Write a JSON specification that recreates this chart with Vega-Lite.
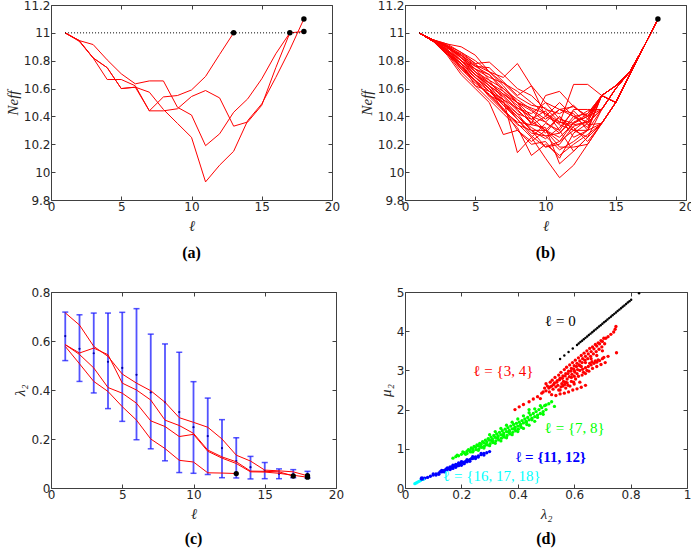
{
"$schema": "https://vega.github.io/schema/vega-lite/v6.json",
"background": "white",
"padding": {"left": 4, "top": -2, "right": 0, "bottom": 0},
"columns": 2,
"spacing": {"row": 92, "column": 69},
"bounds": "flush",
"datasets": {
"a_lines": [
{"r":"A","x":1,"y":11},{"r":"A","x":2,"y":10.945},{"r":"A","x":3,"y":10.82},{"r":"A","x":4,"y":10.665},{"r":"A","x":5,"y":10.665},{"r":"A","x":6,"y":10.62},{"r":"A","x":7,"y":10.44},{"r":"A","x":8,"y":10.54},{"r":"A","x":9,"y":10.55},{"r":"A","x":10,"y":10.59},{"r":"A","x":11,"y":10.687},{"r":"A","x":12,"y":10.845},{"r":"A","x":13,"y":11.0},
{"r":"B","x":1,"y":11},{"r":"B","x":2,"y":10.945},{"r":"B","x":3,"y":10.916},{"r":"B","x":4,"y":10.806},{"r":"B","x":5,"y":10.706},{"r":"B","x":6,"y":10.634},{"r":"B","x":7,"y":10.655},{"r":"B","x":8,"y":10.655},{"r":"B","x":9,"y":10.466},{"r":"B","x":10,"y":10.41},{"r":"B","x":11,"y":10.19},{"r":"B","x":12,"y":10.275},{"r":"B","x":13,"y":10.43},{"r":"B","x":14,"y":10.526},{"r":"B","x":15,"y":10.67},{"r":"B","x":16,"y":10.85},{"r":"B","x":17,"y":11.0},
{"r":"C","x":1,"y":11},{"r":"C","x":2,"y":10.94},{"r":"C","x":3,"y":10.82},{"r":"C","x":4,"y":10.75},{"r":"C","x":5,"y":10.6},{"r":"C","x":6,"y":10.61},{"r":"C","x":7,"y":10.44},{"r":"C","x":8,"y":10.44},{"r":"C","x":9,"y":10.455},{"r":"C","x":10,"y":10.543},{"r":"C","x":11,"y":10.586},{"r":"C","x":12,"y":10.533},{"r":"C","x":13,"y":10.33},{"r":"C","x":14,"y":10.36},{"r":"C","x":15,"y":10.48},{"r":"C","x":16,"y":10.75},{"r":"C","x":17,"y":11.0},{"r":"C","x":18,"y":11.01},
{"r":"D","x":1,"y":11},{"r":"D","x":2,"y":10.945},{"r":"D","x":3,"y":10.82},{"r":"D","x":4,"y":10.75},{"r":"D","x":5,"y":10.6},{"r":"D","x":6,"y":10.61},{"r":"D","x":7,"y":10.574},{"r":"D","x":8,"y":10.45},{"r":"D","x":9,"y":10.35},{"r":"D","x":10,"y":10.25},{"r":"D","x":11,"y":9.93},{"r":"D","x":12,"y":10.05},{"r":"D","x":13,"y":10.15},{"r":"D","x":14,"y":10.37},{"r":"D","x":15,"y":10.49},{"r":"D","x":16,"y":10.68},{"r":"D","x":17,"y":10.88},{"r":"D","x":18,"y":11.1}
],
"a_ref": [{"x":1,"x2":18,"y":11}],
"a_dots": [{"x":13,"y":11.0},{"x":17,"y":11.0},{"x":18,"y":11.01},{"x":18,"y":11.1}],
"b_dots": [{"x":18,"y":11.1}],
"b_lines": [
{"r":1,"x":1,"y":11},{"r":1,"x":2,"y":10.95},{"r":1,"x":3,"y":10.92},{"r":1,"x":4,"y":10.9},{"r":1,"x":5,"y":10.84},{"r":1,"x":6,"y":10.72},{"r":1,"x":7,"y":10.68},{"r":1,"x":8,"y":10.78},{"r":1,"x":9,"y":10.62},{"r":1,"x":10,"y":10.5},{"r":1,"x":11,"y":10.45},{"r":1,"x":12,"y":10.47},{"r":1,"x":13,"y":10.4},{"r":1,"x":14,"y":10.55},{"r":1,"x":15,"y":10.62},{"r":1,"x":16,"y":10.72},{"r":1,"x":17,"y":10.9},{"r":1,"x":18,"y":11.1},
{"r":2,"x":1,"y":11},{"r":2,"x":2,"y":10.95},{"r":2,"x":3,"y":10.9},{"r":2,"x":4,"y":10.85},{"r":2,"x":5,"y":10.78},{"r":2,"x":6,"y":10.79},{"r":2,"x":7,"y":10.7},{"r":2,"x":8,"y":10.6},{"r":2,"x":9,"y":10.55},{"r":2,"x":10,"y":10.45},{"r":2,"x":11,"y":10.42},{"r":2,"x":12,"y":10.48},{"r":2,"x":13,"y":10.38},{"r":2,"x":14,"y":10.55},{"r":2,"x":15,"y":10.5},{"r":2,"x":16,"y":10.7},{"r":2,"x":17,"y":10.9},{"r":2,"x":18,"y":11.1},
{"r":3,"x":1,"y":11},{"r":3,"x":2,"y":10.94},{"r":3,"x":3,"y":10.88},{"r":3,"x":4,"y":10.8},{"r":3,"x":5,"y":10.74},{"r":3,"x":6,"y":10.7},{"r":3,"x":7,"y":10.6},{"r":3,"x":8,"y":10.5},{"r":3,"x":9,"y":10.4},{"r":3,"x":10,"y":10.3},{"r":3,"x":11,"y":10.18},{"r":3,"x":12,"y":10.18},{"r":3,"x":13,"y":10.2},{"r":3,"x":14,"y":10.35},{"r":3,"x":15,"y":10.5},{"r":3,"x":16,"y":10.7},{"r":3,"x":17,"y":10.9},{"r":3,"x":18,"y":11.1},
{"r":4,"x":1,"y":11},{"r":4,"x":2,"y":10.94},{"r":4,"x":3,"y":10.85},{"r":4,"x":4,"y":10.74},{"r":4,"x":5,"y":10.66},{"r":4,"x":6,"y":10.55},{"r":4,"x":7,"y":10.45},{"r":4,"x":8,"y":10.35},{"r":4,"x":9,"y":10.25},{"r":4,"x":10,"y":10.1},{"r":4,"x":11,"y":9.96},{"r":4,"x":12,"y":10.05},{"r":4,"x":13,"y":10.2},{"r":4,"x":14,"y":10.35},{"r":4,"x":15,"y":10.5},{"r":4,"x":16,"y":10.7},{"r":4,"x":17,"y":10.9},{"r":4,"x":18,"y":11.1},
{"r":5,"x":1,"y":11},{"r":5,"x":2,"y":10.95},{"r":5,"x":3,"y":10.9},{"r":5,"x":4,"y":10.82},{"r":5,"x":5,"y":10.72},{"r":5,"x":6,"y":10.62},{"r":5,"x":7,"y":10.55},{"r":5,"x":8,"y":10.45},{"r":5,"x":9,"y":10.35},{"r":5,"x":10,"y":10.55},{"r":5,"x":11,"y":10.58},{"r":5,"x":12,"y":10.47},{"r":5,"x":13,"y":10.4},{"r":5,"x":14,"y":10.55},{"r":5,"x":15,"y":10.62},{"r":5,"x":16,"y":10.72},{"r":5,"x":17,"y":10.9},{"r":5,"x":18,"y":11.1},
{"r":6,"x":1,"y":11},{"r":6,"x":2,"y":10.94},{"r":6,"x":3,"y":10.86},{"r":6,"x":4,"y":10.78},{"r":6,"x":5,"y":10.7},{"r":6,"x":6,"y":10.6},{"r":6,"x":7,"y":10.52},{"r":6,"x":8,"y":10.14},{"r":6,"x":9,"y":10.25},{"r":6,"x":10,"y":10.35},{"r":6,"x":11,"y":10.3},{"r":6,"x":12,"y":10.15},{"r":6,"x":13,"y":10.25},{"r":6,"x":14,"y":10.35},{"r":6,"x":15,"y":10.5},{"r":6,"x":16,"y":10.7},{"r":6,"x":17,"y":10.9},{"r":6,"x":18,"y":11.1},
{"r":7,"x":1,"y":11},{"r":7,"x":2,"y":10.95},{"r":7,"x":3,"y":10.91},{"r":7,"x":4,"y":10.84},{"r":7,"x":5,"y":10.76},{"r":7,"x":6,"y":10.75},{"r":7,"x":7,"y":10.65},{"r":7,"x":8,"y":10.55},{"r":7,"x":9,"y":10.62},{"r":7,"x":10,"y":10.4},{"r":7,"x":11,"y":10.35},{"r":7,"x":12,"y":10.63},{"r":7,"x":13,"y":10.63},{"r":7,"x":14,"y":10.55},{"r":7,"x":15,"y":10.5},{"r":7,"x":16,"y":10.7},{"r":7,"x":17,"y":10.9},{"r":7,"x":18,"y":11.1},
{"r":8,"x":1,"y":11},{"r":8,"x":2,"y":10.94},{"r":8,"x":3,"y":10.84},{"r":8,"x":4,"y":10.7},{"r":8,"x":5,"y":10.6},{"r":8,"x":6,"y":10.5},{"r":8,"x":7,"y":10.27},{"r":8,"x":8,"y":10.3},{"r":8,"x":9,"y":10.2},{"r":8,"x":10,"y":10.22},{"r":8,"x":11,"y":10.1},{"r":8,"x":12,"y":10.28},{"r":8,"x":13,"y":10.35},{"r":8,"x":14,"y":10.45},{"r":8,"x":15,"y":10.6},{"r":8,"x":16,"y":10.72},{"r":8,"x":17,"y":10.9},{"r":8,"x":18,"y":11.1},
{"r":9,"x":1,"y":11},{"r":9,"x":2,"y":10.95},{"r":9,"x":3,"y":10.88},{"r":9,"x":4,"y":10.76},{"r":9,"x":5,"y":10.68},{"r":9,"x":6,"y":10.58},{"r":9,"x":7,"y":10.48},{"r":9,"x":8,"y":10.4},{"r":9,"x":9,"y":10.3},{"r":9,"x":10,"y":10.3},{"r":9,"x":11,"y":10.25},{"r":9,"x":12,"y":10.35},{"r":9,"x":13,"y":10.42},{"r":9,"x":14,"y":10.55},{"r":9,"x":15,"y":10.62},{"r":9,"x":16,"y":10.72},{"r":9,"x":17,"y":10.9},{"r":9,"x":18,"y":11.1},
{"r":10,"x":1,"y":11},{"r":10,"x":2,"y":10.94},{"r":10,"x":3,"y":10.87},{"r":10,"x":4,"y":10.8},{"r":10,"x":5,"y":10.7},{"r":10,"x":6,"y":10.64},{"r":10,"x":7,"y":10.56},{"r":10,"x":8,"y":10.48},{"r":10,"x":9,"y":10.38},{"r":10,"x":10,"y":10.28},{"r":10,"x":11,"y":10.4},{"r":10,"x":12,"y":10.3},{"r":10,"x":13,"y":10.3},{"r":10,"x":14,"y":10.45},{"r":10,"x":15,"y":10.6},{"r":10,"x":16,"y":10.72},{"r":10,"x":17,"y":10.9},{"r":10,"x":18,"y":11.1},
{"r":11,"x":1,"y":11},{"r":11,"x":2,"y":10.95},{"r":11,"x":3,"y":10.92},{"r":11,"x":4,"y":10.86},{"r":11,"x":5,"y":10.78},{"r":11,"x":6,"y":10.66},{"r":11,"x":7,"y":10.6},{"r":11,"x":8,"y":10.52},{"r":11,"x":9,"y":10.45},{"r":11,"x":10,"y":10.38},{"r":11,"x":11,"y":10.45},{"r":11,"x":12,"y":10.42},{"r":11,"x":13,"y":10.3},{"r":11,"x":14,"y":10.55},{"r":11,"x":15,"y":10.5},{"r":11,"x":16,"y":10.7},{"r":11,"x":17,"y":10.9},{"r":11,"x":18,"y":11.1},
{"r":12,"x":1,"y":11},{"r":12,"x":2,"y":10.94},{"r":12,"x":3,"y":10.85},{"r":12,"x":4,"y":10.72},{"r":12,"x":5,"y":10.62},{"r":12,"x":6,"y":10.52},{"r":12,"x":7,"y":10.42},{"r":12,"x":8,"y":10.32},{"r":12,"x":9,"y":10.12},{"r":12,"x":10,"y":10.2},{"r":12,"x":11,"y":10.12},{"r":12,"x":12,"y":10.2},{"r":12,"x":13,"y":10.27},{"r":12,"x":14,"y":10.35},{"r":12,"x":15,"y":10.5},{"r":12,"x":16,"y":10.7},{"r":12,"x":17,"y":10.9},{"r":12,"x":18,"y":11.1},
{"r":13,"x":1,"y":11},{"r":13,"x":2,"y":10.95},{"r":13,"x":3,"y":10.9},{"r":13,"x":4,"y":10.8},{"r":13,"x":5,"y":10.72},{"r":13,"x":6,"y":10.66},{"r":13,"x":7,"y":10.52},{"r":13,"x":8,"y":10.42},{"r":13,"x":9,"y":10.38},{"r":13,"x":10,"y":10.44},{"r":13,"x":11,"y":10.3},{"r":13,"x":12,"y":10.45},{"r":13,"x":13,"y":10.45},{"r":13,"x":14,"y":10.45},{"r":13,"x":15,"y":10.6},{"r":13,"x":16,"y":10.72},{"r":13,"x":17,"y":10.9},{"r":13,"x":18,"y":11.1},
{"r":14,"x":1,"y":11},{"r":14,"x":2,"y":10.94},{"r":14,"x":3,"y":10.86},{"r":14,"x":4,"y":10.76},{"r":14,"x":5,"y":10.65},{"r":14,"x":6,"y":10.55},{"r":14,"x":7,"y":10.5},{"r":14,"x":8,"y":10.38},{"r":14,"x":9,"y":10.26},{"r":14,"x":10,"y":10.18},{"r":14,"x":11,"y":10.2},{"r":14,"x":12,"y":10.33},{"r":14,"x":13,"y":10.36},{"r":14,"x":14,"y":10.55},{"r":14,"x":15,"y":10.62},{"r":14,"x":16,"y":10.72},{"r":14,"x":17,"y":10.9},{"r":14,"x":18,"y":11.1},
{"r":15,"x":1,"y":11},{"r":15,"x":2,"y":10.95},{"r":15,"x":3,"y":10.91},{"r":15,"x":4,"y":10.82},{"r":15,"x":5,"y":10.74},{"r":15,"x":6,"y":10.68},{"r":15,"x":7,"y":10.64},{"r":15,"x":8,"y":10.58},{"r":15,"x":9,"y":10.5},{"r":15,"x":10,"y":10.42},{"r":15,"x":11,"y":10.36},{"r":15,"x":12,"y":10.32},{"r":15,"x":13,"y":10.22},{"r":15,"x":14,"y":10.35},{"r":15,"x":15,"y":10.5},{"r":15,"x":16,"y":10.7},{"r":15,"x":17,"y":10.9},{"r":15,"x":18,"y":11.1},
{"r":16,"x":1,"y":11},{"r":16,"x":2,"y":10.94},{"r":16,"x":3,"y":10.88},{"r":16,"x":4,"y":10.78},{"r":16,"x":5,"y":10.68},{"r":16,"x":6,"y":10.6},{"r":16,"x":7,"y":10.44},{"r":16,"x":8,"y":10.36},{"r":16,"x":9,"y":10.34},{"r":16,"x":10,"y":10.32},{"r":16,"x":11,"y":10.06},{"r":16,"x":12,"y":10.15},{"r":16,"x":13,"y":10.25},{"r":16,"x":14,"y":10.45},{"r":16,"x":15,"y":10.6},{"r":16,"x":16,"y":10.72},{"r":16,"x":17,"y":10.9},{"r":16,"x":18,"y":11.1},
{"r":17,"x":1,"y":11},{"r":17,"x":2,"y":10.95},{"r":17,"x":3,"y":10.89},{"r":17,"x":4,"y":10.84},{"r":17,"x":5,"y":10.77},{"r":17,"x":6,"y":10.72},{"r":17,"x":7,"y":10.62},{"r":17,"x":8,"y":10.5},{"r":17,"x":9,"y":10.44},{"r":17,"x":10,"y":10.36},{"r":17,"x":11,"y":10.28},{"r":17,"x":12,"y":10.4},{"r":17,"x":13,"y":10.36},{"r":17,"x":14,"y":10.55},{"r":17,"x":15,"y":10.5},{"r":17,"x":16,"y":10.7},{"r":17,"x":17,"y":10.9},{"r":17,"x":18,"y":11.1},
{"r":18,"x":1,"y":11},{"r":18,"x":2,"y":10.94},{"r":18,"x":3,"y":10.87},{"r":18,"x":4,"y":10.74},{"r":18,"x":5,"y":10.64},{"r":18,"x":6,"y":10.56},{"r":18,"x":7,"y":10.46},{"r":18,"x":8,"y":10.3},{"r":18,"x":9,"y":10.22},{"r":18,"x":10,"y":10.3},{"r":18,"x":11,"y":10.4},{"r":18,"x":12,"y":10.25},{"r":18,"x":13,"y":10.3},{"r":18,"x":14,"y":10.55},{"r":18,"x":15,"y":10.62},{"r":18,"x":16,"y":10.72},{"r":18,"x":17,"y":10.9},{"r":18,"x":18,"y":11.1},
{"r":19,"x":1,"y":11},{"r":19,"x":2,"y":10.95},{"r":19,"x":3,"y":10.9},{"r":19,"x":4,"y":10.83},{"r":19,"x":5,"y":10.72},{"r":19,"x":6,"y":10.64},{"r":19,"x":7,"y":10.58},{"r":19,"x":8,"y":10.46},{"r":19,"x":9,"y":10.42},{"r":19,"x":10,"y":10.5},{"r":19,"x":11,"y":10.38},{"r":19,"x":12,"y":10.35},{"r":19,"x":13,"y":10.4},{"r":19,"x":14,"y":10.45},{"r":19,"x":15,"y":10.6},{"r":19,"x":16,"y":10.72},{"r":19,"x":17,"y":10.9},{"r":19,"x":18,"y":11.1},
{"r":20,"x":1,"y":11},{"r":20,"x":2,"y":10.94},{"r":20,"x":3,"y":10.85},{"r":20,"x":4,"y":10.78},{"r":20,"x":5,"y":10.62},{"r":20,"x":6,"y":10.58},{"r":20,"x":7,"y":10.5},{"r":20,"x":8,"y":10.42},{"r":20,"x":9,"y":10.3},{"r":20,"x":10,"y":10.24},{"r":20,"x":11,"y":10.32},{"r":20,"x":12,"y":10.44},{"r":20,"x":13,"y":10.34},{"r":20,"x":14,"y":10.35},{"r":20,"x":15,"y":10.5},{"r":20,"x":16,"y":10.7},{"r":20,"x":17,"y":10.9},{"r":20,"x":18,"y":11.1},
{"r":21,"x":1,"y":11},{"r":21,"x":2,"y":10.95},{"r":21,"x":3,"y":10.9},{"r":21,"x":4,"y":10.8},{"r":21,"x":5,"y":10.7},{"r":21,"x":6,"y":10.62},{"r":21,"x":7,"y":10.54},{"r":21,"x":8,"y":10.44},{"r":21,"x":9,"y":10.36},{"r":21,"x":10,"y":10.3},{"r":21,"x":11,"y":10.22},{"r":21,"x":12,"y":10.3},{"r":21,"x":13,"y":10.38},{"r":21,"x":14,"y":10.55},{"r":21,"x":15,"y":10.5},{"r":21,"x":16,"y":10.7},{"r":21,"x":17,"y":10.9},{"r":21,"x":18,"y":11.1},
{"r":22,"x":1,"y":11},{"r":22,"x":2,"y":10.94},{"r":22,"x":3,"y":10.86},{"r":22,"x":4,"y":10.75},{"r":22,"x":5,"y":10.66},{"r":22,"x":6,"y":10.58},{"r":22,"x":7,"y":10.52},{"r":22,"x":8,"y":10.46},{"r":22,"x":9,"y":10.4},{"r":22,"x":10,"y":10.36},{"r":22,"x":11,"y":10.45},{"r":22,"x":12,"y":10.4},{"r":22,"x":13,"y":10.42},{"r":22,"x":14,"y":10.55},{"r":22,"x":15,"y":10.62},{"r":22,"x":16,"y":10.72},{"r":22,"x":17,"y":10.9},{"r":22,"x":18,"y":11.1},
{"r":23,"x":1,"y":11},{"r":23,"x":2,"y":10.95},{"r":23,"x":3,"y":10.9},{"r":23,"x":4,"y":10.82},{"r":23,"x":5,"y":10.76},{"r":23,"x":6,"y":10.7},{"r":23,"x":7,"y":10.58},{"r":23,"x":8,"y":10.5},{"r":23,"x":9,"y":10.46},{"r":23,"x":10,"y":10.42},{"r":23,"x":11,"y":10.34},{"r":23,"x":12,"y":10.3},{"r":23,"x":13,"y":10.25},{"r":23,"x":14,"y":10.35},{"r":23,"x":15,"y":10.5},{"r":23,"x":16,"y":10.7},{"r":23,"x":17,"y":10.9},{"r":23,"x":18,"y":11.1},
{"r":24,"x":1,"y":11},{"r":24,"x":2,"y":10.94},{"r":24,"x":3,"y":10.87},{"r":24,"x":4,"y":10.78},{"r":24,"x":5,"y":10.68},{"r":24,"x":6,"y":10.6},{"r":24,"x":7,"y":10.48},{"r":24,"x":8,"y":10.38},{"r":24,"x":9,"y":10.28},{"r":24,"x":10,"y":10.26},{"r":24,"x":11,"y":10.28},{"r":24,"x":12,"y":10.38},{"r":24,"x":13,"y":10.44},{"r":24,"x":14,"y":10.45},{"r":24,"x":15,"y":10.6},{"r":24,"x":16,"y":10.72},{"r":24,"x":17,"y":10.9},{"r":24,"x":18,"y":11.1},
{"r":25,"x":1,"y":11},{"r":25,"x":2,"y":10.95},{"r":25,"x":3,"y":10.89},{"r":25,"x":4,"y":10.84},{"r":25,"x":5,"y":10.74},{"r":25,"x":6,"y":10.64},{"r":25,"x":7,"y":10.56},{"r":25,"x":8,"y":10.5},{"r":25,"x":9,"y":10.34},{"r":25,"x":10,"y":10.4},{"r":25,"x":11,"y":10.5},{"r":25,"x":12,"y":10.4},{"r":25,"x":13,"y":10.32},{"r":25,"x":14,"y":10.55},{"r":25,"x":15,"y":10.5},{"r":25,"x":16,"y":10.7},{"r":25,"x":17,"y":10.9},{"r":25,"x":18,"y":11.1},
{"r":26,"x":1,"y":11},{"r":26,"x":2,"y":10.94},{"r":26,"x":3,"y":10.85},{"r":26,"x":4,"y":10.76},{"r":26,"x":5,"y":10.66},{"r":26,"x":6,"y":10.54},{"r":26,"x":7,"y":10.44},{"r":26,"x":8,"y":10.34},{"r":26,"x":9,"y":10.3},{"r":26,"x":10,"y":10.18},{"r":26,"x":11,"y":10.22},{"r":26,"x":12,"y":10.36},{"r":26,"x":13,"y":10.4},{"r":26,"x":14,"y":10.55},{"r":26,"x":15,"y":10.62},{"r":26,"x":16,"y":10.72},{"r":26,"x":17,"y":10.9},{"r":26,"x":18,"y":11.1},
{"r":27,"x":1,"y":11},{"r":27,"x":2,"y":10.95},{"r":27,"x":3,"y":10.91},{"r":27,"x":4,"y":10.86},{"r":27,"x":5,"y":10.8},{"r":27,"x":6,"y":10.72},{"r":27,"x":7,"y":10.64},{"r":27,"x":8,"y":10.54},{"r":27,"x":9,"y":10.48},{"r":27,"x":10,"y":10.46},{"r":27,"x":11,"y":10.36},{"r":27,"x":12,"y":10.34},{"r":27,"x":13,"y":10.36},{"r":27,"x":14,"y":10.45},{"r":27,"x":15,"y":10.6},{"r":27,"x":16,"y":10.72},{"r":27,"x":17,"y":10.9},{"r":27,"x":18,"y":11.1},
{"r":28,"x":1,"y":11},{"r":28,"x":2,"y":10.94},{"r":28,"x":3,"y":10.88},{"r":28,"x":4,"y":10.8},{"r":28,"x":5,"y":10.7},{"r":28,"x":6,"y":10.62},{"r":28,"x":7,"y":10.5},{"r":28,"x":8,"y":10.4},{"r":28,"x":9,"y":10.32},{"r":28,"x":10,"y":10.26},{"r":28,"x":11,"y":10.16},{"r":28,"x":12,"y":10.22},{"r":28,"x":13,"y":10.3},{"r":28,"x":14,"y":10.35},{"r":28,"x":15,"y":10.5},{"r":28,"x":16,"y":10.7},{"r":28,"x":17,"y":10.9},{"r":28,"x":18,"y":11.1}
],
"c_lines": [
{"r":1,"x":1,"y":0.715},{"r":1,"x":2,"y":0.665},{"r":1,"x":3,"y":0.578},{"r":1,"x":4,"y":0.537},{"r":1,"x":5,"y":0.465},{"r":1,"x":6,"y":0.428},{"r":1,"x":7,"y":0.397},{"r":1,"x":8,"y":0.35},{"r":1,"x":9,"y":0.287},{"r":1,"x":10,"y":0.268},{"r":1,"x":11,"y":0.248},{"r":1,"x":12,"y":0.2},{"r":1,"x":13,"y":0.134},{"r":1,"x":14,"y":0.11},{"r":1,"x":15,"y":0.073},{"r":1,"x":16,"y":0.07},{"r":1,"x":17,"y":0.066},{"r":1,"x":18,"y":0.05},
{"r":2,"x":1,"y":0.585},{"r":2,"x":2,"y":0.551},{"r":2,"x":3,"y":0.571},{"r":2,"x":4,"y":0.544},{"r":2,"x":5,"y":0.428},{"r":2,"x":6,"y":0.4},{"r":2,"x":7,"y":0.359},{"r":2,"x":8,"y":0.277},{"r":2,"x":9,"y":0.255},{"r":2,"x":10,"y":0.223},{"r":2,"x":11,"y":0.155},{"r":2,"x":12,"y":0.127},{"r":2,"x":13,"y":0.107},{"r":2,"x":14,"y":0.069},{"r":2,"x":15,"y":0.068},{"r":2,"x":16,"y":0.066},{"r":2,"x":17,"y":0.049},
{"r":3,"x":1,"y":0.585},{"r":3,"x":2,"y":0.545},{"r":3,"x":3,"y":0.49},{"r":3,"x":4,"y":0.41},{"r":3,"x":5,"y":0.387},{"r":3,"x":6,"y":0.346},{"r":3,"x":7,"y":0.274},{"r":3,"x":8,"y":0.251},{"r":3,"x":9,"y":0.21},{"r":3,"x":10,"y":0.219},{"r":3,"x":11,"y":0.15},{"r":3,"x":12,"y":0.122},{"r":3,"x":13,"y":0.1},{"r":3,"x":14,"y":0.066},{"r":3,"x":15,"y":0.065},{"r":3,"x":16,"y":0.06},{"r":3,"x":17,"y":0.052},{"r":3,"x":18,"y":0.044},
{"r":4,"x":1,"y":0.578},{"r":4,"x":2,"y":0.507},{"r":4,"x":3,"y":0.435},{"r":4,"x":4,"y":0.394},{"r":4,"x":5,"y":0.332},{"r":4,"x":6,"y":0.277},{"r":4,"x":7,"y":0.2},{"r":4,"x":8,"y":0.161},{"r":4,"x":9,"y":0.113},{"r":4,"x":10,"y":0.106},{"r":4,"x":11,"y":0.062},{"r":4,"x":12,"y":0.061},{"r":4,"x":13,"y":0.059}
],
"c_err": [
{"x":1,"lo":0.52,"hi":0.718,"m":0.62},{"x":2,"lo":0.435,"hi":0.707,"m":0.568},{"x":3,"lo":0.388,"hi":0.714,"m":0.55},{"x":4,"lo":0.324,"hi":0.714,"m":0.515},{"x":5,"lo":0.272,"hi":0.717,"m":0.49},{"x":6,"lo":0.197,"hi":0.732,"m":0.462},{"x":7,"lo":0.16,"hi":0.628,"m":0.39},{"x":8,"lo":0.111,"hi":0.588,"m":0.35},{"x":9,"lo":0.063,"hi":0.554,"m":0.31},{"x":10,"lo":0.06,"hi":0.434,"m":0.248},{"x":11,"lo":0.055,"hi":0.367,"m":0.212},{"x":12,"lo":0.042,"hi":0.279,"m":0.163},{"x":13,"lo":0.041,"hi":0.205,"m":0.11},{"x":14,"lo":0.037,"hi":0.129,"m":0.085},{"x":15,"lo":0.038,"hi":0.104,"m":0.07},{"x":16,"lo":0.038,"hi":0.078,"m":0.058},{"x":17,"lo":0.042,"hi":0.075,"m":0.055},{"x":18,"lo":0.04,"hi":0.068,"m":0.05}
],
"c_dots": [{"x":13,"y":0.059},{"x":17,"y":0.049},{"x":18,"y":0.05},{"x":18,"y":0.044}],
"d_black": [
{"g":"k","x":0.55,"y":3.29},{"g":"k","x":0.565,"y":3.38},{"g":"k","x":0.58,"y":3.47},{"g":"k","x":0.595,"y":3.56},{"g":"k","x":0.61,"y":3.65},{"g":"k","x":0.616,"y":3.686},{"g":"k","x":0.622,"y":3.722},{"g":"k","x":0.628,"y":3.758},{"g":"k","x":0.634,"y":3.794},{"g":"k","x":0.64,"y":3.83},{"g":"k","x":0.646,"y":3.866},{"g":"k","x":0.652,"y":3.902},{"g":"k","x":0.658,"y":3.938},{"g":"k","x":0.664,"y":3.974},{"g":"k","x":0.67,"y":4.01},{"g":"k","x":0.676,"y":4.046},{"g":"k","x":0.682,"y":4.082},{"g":"k","x":0.688,"y":4.118},{"g":"k","x":0.694,"y":4.154},{"g":"k","x":0.7,"y":4.19},{"g":"k","x":0.706,"y":4.226},{"g":"k","x":0.712,"y":4.262},{"g":"k","x":0.718,"y":4.298},{"g":"k","x":0.724,"y":4.334},{"g":"k","x":0.73,"y":4.37},{"g":"k","x":0.736,"y":4.406},{"g":"k","x":0.742,"y":4.442},{"g":"k","x":0.748,"y":4.478},{"g":"k","x":0.754,"y":4.514},{"g":"k","x":0.76,"y":4.55},{"g":"k","x":0.766,"y":4.586},{"g":"k","x":0.772,"y":4.622},{"g":"k","x":0.778,"y":4.658},{"g":"k","x":0.784,"y":4.694},{"g":"k","x":0.79,"y":4.73},{"g":"k","x":0.796,"y":4.766},{"g":"k","x":0.802,"y":4.802},{"g":"k","x":0.83,"y":4.97}
],
"d_pts": [
{"g":"r","x":0.39,"y":2.0},{"g":"r","x":0.405,"y":2.07},{"g":"r","x":0.42,"y":2.13},{"g":"r","x":0.44,"y":2.2},{"g":"r","x":0.455,"y":2.27},{"g":"r","x":0.47,"y":2.33},{"g":"r","x":0.48,"y":2.28},{"g":"r","x":0.485,"y":2.42},
{"g":"r","x":0.49,"y":2.45},{"g":"r","x":0.495,"y":2.55},{"g":"r","x":0.5,"y":2.48},{"g":"r","x":0.505,"y":2.6},{"g":"r","x":0.5,"y":2.66},{"g":"r","x":0.51,"y":2.55},{"g":"r","x":0.515,"y":2.7},{"g":"r","x":0.512,"y":2.45},{"g":"r","x":0.52,"y":2.6},{"g":"r","x":0.522,"y":2.75},{"g":"r","x":0.525,"y":2.52},{"g":"r","x":0.53,"y":2.68},{"g":"r","x":0.532,"y":2.82},{"g":"r","x":0.535,"y":2.58},{"g":"r","x":0.54,"y":2.74},{"g":"r","x":0.545,"y":2.88},{"g":"r","x":0.542,"y":2.62},{"g":"r","x":0.55,"y":2.8},{"g":"r","x":0.553,"y":2.95},{"g":"r","x":0.556,"y":2.66},{"g":"r","x":0.56,"y":2.86},{"g":"r","x":0.565,"y":3.02},{"g":"r","x":0.562,"y":2.72},{"g":"r","x":0.57,"y":2.92},{"g":"r","x":0.573,"y":3.08},{"g":"r","x":0.575,"y":2.78},{"g":"r","x":0.58,"y":2.98},{"g":"r","x":0.584,"y":3.14},{"g":"r","x":0.583,"y":2.84},{"g":"r","x":0.59,"y":3.05},{"g":"r","x":0.594,"y":3.2},{"g":"r","x":0.592,"y":2.9},{"g":"r","x":0.6,"y":3.12},{"g":"r","x":0.604,"y":3.26},{"g":"r","x":0.602,"y":2.96},{"g":"r","x":0.61,"y":3.18},{"g":"r","x":0.615,"y":3.32},{"g":"r","x":0.612,"y":3.02},{"g":"r","x":0.62,"y":3.24},{"g":"r","x":0.625,"y":3.38},{"g":"r","x":0.63,"y":3.3},{"g":"r","x":0.635,"y":3.44},{"g":"r","x":0.64,"y":3.36},{"g":"r","x":0.645,"y":3.5},{"g":"r","x":0.65,"y":3.42},{"g":"r","x":0.655,"y":3.56},{"g":"r","x":0.66,"y":3.48},{"g":"r","x":0.665,"y":3.6},{"g":"r","x":0.67,"y":3.55},{"g":"r","x":0.675,"y":3.66},{"g":"r","x":0.68,"y":3.62},{"g":"r","x":0.685,"y":3.7},{"g":"r","x":0.69,"y":3.68},{"g":"r","x":0.695,"y":3.76},{"g":"r","x":0.7,"y":3.74},{"g":"r","x":0.705,"y":3.82},{"g":"r","x":0.712,"y":3.82},{"g":"r","x":0.72,"y":3.86},{"g":"r","x":0.73,"y":3.92},{"g":"r","x":0.745,"y":4.05},{"g":"r","x":0.748,"y":4.12},{"g":"r","x":0.74,"y":3.98},
{"g":"r","x":0.62,"y":3.0},{"g":"r","x":0.625,"y":3.1},{"g":"r","x":0.63,"y":3.03},{"g":"r","x":0.633,"y":2.95},{"g":"r","x":0.64,"y":3.07},{"g":"r","x":0.645,"y":3.0},{"g":"r","x":0.65,"y":3.1},{"g":"r","x":0.655,"y":3.18},{"g":"r","x":0.66,"y":3.14},{"g":"r","x":0.663,"y":3.22},{"g":"r","x":0.67,"y":3.18},{"g":"r","x":0.675,"y":3.24},{"g":"r","x":0.68,"y":3.21},{"g":"r","x":0.685,"y":3.27},{"g":"r","x":0.69,"y":3.25},{"g":"r","x":0.7,"y":3.3},{"g":"r","x":0.705,"y":3.33},{"g":"r","x":0.72,"y":3.36},{"g":"r","x":0.75,"y":3.45},
{"g":"r","x":0.52,"y":2.38},{"g":"r","x":0.535,"y":2.36},{"g":"r","x":0.55,"y":2.4},{"g":"r","x":0.565,"y":2.42},{"g":"r","x":0.58,"y":2.45},{"g":"r","x":0.595,"y":2.5},{"g":"r","x":0.61,"y":2.53},{"g":"r","x":0.625,"y":2.57},{"g":"r","x":0.64,"y":2.62},{"g":"r","x":0.55,"y":2.5},{"g":"r","x":0.57,"y":2.55},{"g":"r","x":0.585,"y":2.6},{"g":"r","x":0.6,"y":2.65},
{"g":"r","x":0.545,"y":2.5},{"g":"r","x":0.56,"y":2.6},{"g":"r","x":0.575,"y":2.68},{"g":"r","x":0.59,"y":2.72},{"g":"r","x":0.605,"y":2.78},{"g":"r","x":0.615,"y":2.85},{"g":"r","x":0.6,"y":2.85},{"g":"r","x":0.57,"y":2.7},
{"g":"r","x":0.515,"y":2.58},{"g":"r","x":0.527,"y":2.64},{"g":"r","x":0.538,"y":2.7},{"g":"r","x":0.548,"y":2.76},{"g":"r","x":0.558,"y":2.8},{"g":"r","x":0.568,"y":2.86},{"g":"r","x":0.578,"y":2.92},{"g":"r","x":0.588,"y":2.98},{"g":"r","x":0.598,"y":3.04},{"g":"r","x":0.608,"y":3.1},{"g":"r","x":0.618,"y":3.14},{"g":"r","x":0.628,"y":3.2},{"g":"r","x":0.638,"y":3.26},{"g":"r","x":0.648,"y":3.3},{"g":"r","x":0.658,"y":3.36},{"g":"r","x":0.668,"y":3.42},{"g":"r","x":0.678,"y":3.48},{"g":"r","x":0.688,"y":3.54},{"g":"r","x":0.698,"y":3.6},{"g":"r","x":0.708,"y":3.68},
{"g":"r","x":0.553,"y":2.58},{"g":"r","x":0.566,"y":2.64},{"g":"r","x":0.578,"y":2.62},{"g":"r","x":0.59,"y":2.82},{"g":"r","x":0.598,"y":2.7},{"g":"r","x":0.61,"y":2.92},{"g":"r","x":0.62,"y":2.7},{"g":"r","x":0.628,"y":2.88},{"g":"r","x":0.64,"y":2.92},{"g":"r","x":0.652,"y":2.98},{"g":"r","x":0.665,"y":3.05},{"g":"r","x":0.68,"y":3.1},{"g":"r","x":0.695,"y":3.15},{"g":"r","x":0.71,"y":3.2},{"g":"r","x":0.6,"y":3.0},{"g":"r","x":0.62,"y":3.12},{"g":"r","x":0.64,"y":3.2},{"g":"r","x":0.66,"y":3.3},{"g":"r","x":0.68,"y":3.38},{"g":"r","x":0.7,"y":3.5},
{"g":"g","x":0.17,"y":0.76},{"g":"g","x":0.18,"y":0.8},{"g":"g","x":0.185,"y":0.84},{"g":"g","x":0.19,"y":0.82},{"g":"g","x":0.2,"y":0.86},{"g":"g","x":0.205,"y":0.92},{"g":"g","x":0.21,"y":0.9},{"g":"g","x":0.215,"y":0.86},{"g":"g","x":0.22,"y":0.94},{"g":"g","x":0.225,"y":0.98},{"g":"g","x":0.23,"y":0.96},{"g":"g","x":0.235,"y":1.02},{"g":"g","x":0.232,"y":0.92},{"g":"g","x":0.24,"y":1.0},{"g":"g","x":0.245,"y":1.06},{"g":"g","x":0.242,"y":0.95},{"g":"g","x":0.25,"y":1.04},{"g":"g","x":0.255,"y":1.1},{"g":"g","x":0.252,"y":0.98},{"g":"g","x":0.26,"y":1.08},{"g":"g","x":0.265,"y":1.14},{"g":"g","x":0.262,"y":1.0},{"g":"g","x":0.268,"y":1.05},{"g":"g","x":0.27,"y":1.11},{"g":"g","x":0.275,"y":1.18},{"g":"g","x":0.272,"y":1.04},{"g":"g","x":0.28,"y":1.15},{"g":"g","x":0.285,"y":1.22},{"g":"g","x":0.282,"y":1.07},{"g":"g","x":0.288,"y":1.12},{"g":"g","x":0.29,"y":1.18},{"g":"g","x":0.295,"y":1.26},{"g":"g","x":0.292,"y":1.1},{"g":"g","x":0.3,"y":1.22},{"g":"g","x":0.305,"y":1.3},{"g":"g","x":0.302,"y":1.13},{"g":"g","x":0.308,"y":1.2},{"g":"g","x":0.31,"y":1.25},{"g":"g","x":0.315,"y":1.34},{"g":"g","x":0.312,"y":1.16},{"g":"g","x":0.32,"y":1.29},{"g":"g","x":0.325,"y":1.38},{"g":"g","x":0.322,"y":1.2},{"g":"g","x":0.328,"y":1.27},{"g":"g","x":0.33,"y":1.33},{"g":"g","x":0.335,"y":1.42},{"g":"g","x":0.332,"y":1.23},{"g":"g","x":0.34,"y":1.36},{"g":"g","x":0.345,"y":1.46},{"g":"g","x":0.342,"y":1.27},{"g":"g","x":0.348,"y":1.34},{"g":"g","x":0.35,"y":1.4},{"g":"g","x":0.355,"y":1.5},{"g":"g","x":0.352,"y":1.3},{"g":"g","x":0.36,"y":1.44},{"g":"g","x":0.365,"y":1.54},{"g":"g","x":0.362,"y":1.34},{"g":"g","x":0.368,"y":1.42},{"g":"g","x":0.37,"y":1.47},{"g":"g","x":0.375,"y":1.58},{"g":"g","x":0.372,"y":1.38},{"g":"g","x":0.38,"y":1.51},{"g":"g","x":0.385,"y":1.62},{"g":"g","x":0.382,"y":1.42},{"g":"g","x":0.388,"y":1.5},{"g":"g","x":0.39,"y":1.55},{"g":"g","x":0.395,"y":1.65},{"g":"g","x":0.392,"y":1.46},{"g":"g","x":0.4,"y":1.58},{"g":"g","x":0.405,"y":1.68},{"g":"g","x":0.402,"y":1.5},{"g":"g","x":0.41,"y":1.62},{"g":"g","x":0.415,"y":1.72},{"g":"g","x":0.412,"y":1.55},{"g":"g","x":0.42,"y":1.66},{"g":"g","x":0.425,"y":1.76},{"g":"g","x":0.43,"y":1.7},{"g":"g","x":0.435,"y":1.8},{"g":"g","x":0.432,"y":1.62},{"g":"g","x":0.44,"y":1.74},{"g":"g","x":0.445,"y":1.86},{"g":"g","x":0.45,"y":1.78},{"g":"g","x":0.455,"y":1.9},{"g":"g","x":0.46,"y":1.82},{"g":"g","x":0.465,"y":1.95},{"g":"g","x":0.47,"y":1.86},{"g":"g","x":0.475,"y":2.0},{"g":"g","x":0.48,"y":1.9},{"g":"g","x":0.485,"y":2.05},{"g":"g","x":0.49,"y":1.95},{"g":"g","x":0.495,"y":2.1},{"g":"g","x":0.5,"y":2.0},{"g":"g","x":0.51,"y":2.15},{"g":"g","x":0.52,"y":2.2},{"g":"g","x":0.53,"y":2.08},{"g":"g","x":0.44,"y":2.0},
{"g":"g","x":0.22,"y":0.88},{"g":"g","x":0.24,"y":0.92},{"g":"g","x":0.26,"y":0.96},{"g":"g","x":0.28,"y":1.02},{"g":"g","x":0.3,"y":1.08},{"g":"g","x":0.32,"y":1.14},{"g":"g","x":0.34,"y":1.2},{"g":"g","x":0.36,"y":1.28},{"g":"g","x":0.38,"y":1.36},{"g":"g","x":0.4,"y":1.44},{"g":"g","x":0.42,"y":1.52},{"g":"g","x":0.44,"y":1.6},{"g":"g","x":0.46,"y":1.7},{"g":"g","x":0.3,"y":1.36},{"g":"g","x":0.32,"y":1.44},{"g":"g","x":0.34,"y":1.52},{"g":"g","x":0.36,"y":1.6},{"g":"g","x":0.38,"y":1.68},{"g":"g","x":0.4,"y":1.76},{"g":"g","x":0.42,"y":1.84},{"g":"g","x":0.44,"y":1.92},{"g":"g","x":0.46,"y":2.02},{"g":"g","x":0.48,"y":2.1},{"g":"g","x":0.5,"y":2.12},{"g":"g","x":0.31,"y":1.2},{"g":"g","x":0.33,"y":1.3},{"g":"g","x":0.35,"y":1.36},{"g":"g","x":0.37,"y":1.44},{"g":"g","x":0.39,"y":1.52},{"g":"g","x":0.41,"y":1.58},{"g":"g","x":0.43,"y":1.68},{"g":"g","x":0.45,"y":1.74},{"g":"g","x":0.47,"y":1.8},{"g":"g","x":0.49,"y":1.88},
{"g":"b","x":0.07,"y":0.25},{"g":"b","x":0.08,"y":0.27},{"g":"b","x":0.09,"y":0.3},{"g":"b","x":0.1,"y":0.33},{"g":"b","x":0.11,"y":0.36},{"g":"b","x":0.12,"y":0.38},{"g":"b","x":0.125,"y":0.42},{"g":"b","x":0.13,"y":0.41},{"g":"b","x":0.135,"y":0.44},{"g":"b","x":0.14,"y":0.44},{"g":"b","x":0.145,"y":0.48},{"g":"b","x":0.15,"y":0.47},{"g":"b","x":0.155,"y":0.5},{"g":"b","x":0.16,"y":0.5},{"g":"b","x":0.16,"y":0.54},{"g":"b","x":0.165,"y":0.52},{"g":"b","x":0.17,"y":0.55},{"g":"b","x":0.17,"y":0.5},{"g":"b","x":0.175,"y":0.57},{"g":"b","x":0.18,"y":0.56},{"g":"b","x":0.18,"y":0.6},{"g":"b","x":0.185,"y":0.58},{"g":"b","x":0.19,"y":0.6},{"g":"b","x":0.19,"y":0.64},{"g":"b","x":0.195,"y":0.62},{"g":"b","x":0.2,"y":0.63},{"g":"b","x":0.2,"y":0.58},{"g":"b","x":0.205,"y":0.66},{"g":"b","x":0.21,"y":0.65},{"g":"b","x":0.215,"y":0.68},{"g":"b","x":0.22,"y":0.67},{"g":"b","x":0.22,"y":0.72},{"g":"b","x":0.225,"y":0.7},{"g":"b","x":0.23,"y":0.72},{"g":"b","x":0.235,"y":0.75},{"g":"b","x":0.24,"y":0.75},{"g":"b","x":0.245,"y":0.78},{"g":"b","x":0.25,"y":0.79},{"g":"b","x":0.26,"y":0.82},{"g":"b","x":0.27,"y":0.85},{"g":"b","x":0.28,"y":0.88},{"g":"b","x":0.29,"y":0.9},{"g":"b","x":0.3,"y":0.93},
{"g":"b","x":0.12,"y":0.35},{"g":"b","x":0.13,"y":0.45},{"g":"b","x":0.14,"y":0.41},{"g":"b","x":0.15,"y":0.51},{"g":"b","x":0.16,"y":0.47},{"g":"b","x":0.17,"y":0.58},{"g":"b","x":0.18,"y":0.53},{"g":"b","x":0.19,"y":0.57},{"g":"b","x":0.2,"y":0.67},{"g":"b","x":0.21,"y":0.62},{"g":"b","x":0.22,"y":0.7},{"g":"b","x":0.23,"y":0.68},{"g":"b","x":0.24,"y":0.8},{"g":"b","x":0.25,"y":0.75},{"g":"b","x":0.26,"y":0.79},{"g":"b","x":0.27,"y":0.88},{"g":"b","x":0.28,"y":0.84},{"g":"b","x":0.1,"y":0.36},{"g":"b","x":0.11,"y":0.33},
{"g":"c","x":0.035,"y":0.11},{"g":"c","x":0.04,"y":0.13},{"g":"c","x":0.045,"y":0.15},{"g":"c","x":0.05,"y":0.17},{"g":"c","x":0.055,"y":0.19},{"g":"c","x":0.065,"y":0.22}
],
"d_big": [{"g":"b","x":0.06,"y":0.24}],
"d_labels": [
{"g":"k","x":0.551,"y":4.25,"t":"ℓ = 0"},
{"g":"r","x":0.349,"y":2.99,"t":"ℓ = {3, 4}"},
{"g":"g","x":0.602,"y":1.53,"t":"ℓ = {7, 8}"},
{"g":"c","x":0.308,"y":0.3,"t":"ℓ = {16, 17, 18}"}
],
"d_labels_bold": [
{"g":"b","x":0.517,"y":0.78,"t":"ℓ = {11, 12}"}
]
},
"concat": [
{
 "width": 281, "height": 195,
 "title": {"text": "(a)", "orient": "bottom", "offset": 12},
 "resolve": {"axis": {"x": "independent", "y": "independent"}},
 "layer": [
  {"data": {"name": "a_lines"}, "mark": {"type": "line", "color": "#ff0000", "strokeWidth": 1},
   "encoding": {
    "x": {"field": "x", "type": "quantitative", "scale": {"domain": [0, 20], "nice": false}, "axis": {"values": [0, 5, 10, 15, 20], "format": "~g", "title": "ℓ"}},
    "y": {"field": "y", "type": "quantitative", "scale": {"domain": [9.8, 11.2], "nice": false, "zero": false}, "axis": {"values": [9.8, 10, 10.2, 10.4, 10.6, 10.8, 11, 11.2], "format": "~g", "title": "Neff"}},
    "detail": {"field": "r", "type": "nominal"}}},
  {"data": {"name": "a_ref"}, "mark": {"type": "rule", "color": "#000000", "strokeDash": [1, 2], "strokeWidth": 1},
   "encoding": {
    "x": {"field": "x", "type": "quantitative", "scale": {"domain": [0, 20], "nice": false}, "axis": null},
    "x2": {"field": "x2"},
    "y": {"field": "y", "type": "quantitative", "scale": {"domain": [9.8, 11.2], "nice": false, "zero": false}, "axis": null}}},
  {"data": {"name": "a_dots"}, "mark": {"type": "point", "filled": true, "color": "#000000", "size": 30, "opacity": 1},
   "encoding": {
    "x": {"field": "x", "type": "quantitative", "scale": {"domain": [0, 20], "nice": false}, "axis": {"orient": "top", "labels": false, "title": null, "values": [0, 5, 10, 15, 20]}},
    "y": {"field": "y", "type": "quantitative", "scale": {"domain": [9.8, 11.2], "nice": false, "zero": false}, "axis": {"orient": "right", "labels": false, "title": null, "values": [9.8, 10, 10.2, 10.4, 10.6, 10.8, 11, 11.2]}}}}
 ]
},
{
 "width": 281, "height": 195,
 "title": {"text": "(b)", "orient": "bottom", "offset": 12},
 "resolve": {"axis": {"x": "independent", "y": "independent"}},
 "layer": [
  {"data": {"name": "b_lines"}, "mark": {"type": "line", "color": "#ff0000", "strokeWidth": 1},
   "encoding": {
    "x": {"field": "x", "type": "quantitative", "scale": {"domain": [0, 20], "nice": false}, "axis": {"values": [0, 5, 10, 15, 20], "format": "~g", "title": "ℓ"}},
    "y": {"field": "y", "type": "quantitative", "scale": {"domain": [9.8, 11.2], "nice": false, "zero": false}, "axis": {"values": [9.8, 10, 10.2, 10.4, 10.6, 10.8, 11, 11.2], "format": "~g", "title": "Neff"}},
    "detail": {"field": "r", "type": "nominal"}}},
  {"data": {"name": "a_ref"}, "mark": {"type": "rule", "color": "#000000", "strokeDash": [1, 2], "strokeWidth": 1},
   "encoding": {
    "x": {"field": "x", "type": "quantitative", "scale": {"domain": [0, 20], "nice": false}, "axis": null},
    "x2": {"field": "x2"},
    "y": {"field": "y", "type": "quantitative", "scale": {"domain": [9.8, 11.2], "nice": false, "zero": false}, "axis": null}}},
  {"data": {"name": "b_dots"}, "mark": {"type": "point", "filled": true, "color": "#000000", "size": 30, "opacity": 1},
   "encoding": {
    "x": {"field": "x", "type": "quantitative", "scale": {"domain": [0, 20], "nice": false}, "axis": {"orient": "top", "labels": false, "title": null, "values": [0, 5, 10, 15, 20]}},
    "y": {"field": "y", "type": "quantitative", "scale": {"domain": [9.8, 11.2], "nice": false, "zero": false}, "axis": {"orient": "right", "labels": false, "title": null, "values": [9.8, 10, 10.2, 10.4, 10.6, 10.8, 11, 11.2]}}}}
 ]
},
{
 "width": 285, "height": 196,
 "title": {"text": "(c)", "orient": "bottom", "offset": 10},
 "resolve": {"axis": {"x": "independent", "y": "independent"}},
 "layer": [
  {"data": {"name": "c_err"}, "mark": {"type": "rule", "color": "#1a1aff", "strokeWidth": 1.8, "opacity": 0.75},
   "encoding": {
    "x": {"field": "x", "type": "quantitative", "scale": {"domain": [0, 20], "nice": false}, "axis": {"values": [0, 5, 10, 15, 20], "format": "~g", "title": "ℓ"}},
    "y": {"field": "lo", "type": "quantitative", "scale": {"domain": [0, 0.8], "nice": false}, "axis": {"values": [0, 0.2, 0.4, 0.6, 0.8], "format": "~g", "title": "λ₂"}},
    "y2": {"field": "hi"}}},
  {"data": {"name": "c_err"}, "mark": {"type": "tick", "orient": "horizontal", "color": "#1a1aff", "size": 6, "thickness": 1.5, "opacity": 0.75},
   "encoding": {
    "x": {"field": "x", "type": "quantitative", "scale": {"domain": [0, 20], "nice": false}, "axis": null},
    "y": {"field": "lo", "type": "quantitative", "scale": {"domain": [0, 0.8], "nice": false}, "axis": null}}},
  {"data": {"name": "c_err"}, "mark": {"type": "tick", "orient": "horizontal", "color": "#1a1aff", "size": 6, "thickness": 1.5, "opacity": 0.75},
   "encoding": {
    "x": {"field": "x", "type": "quantitative", "scale": {"domain": [0, 20], "nice": false}, "axis": null},
    "y": {"field": "hi", "type": "quantitative", "scale": {"domain": [0, 0.8], "nice": false}, "axis": null}}},
  {"data": {"name": "c_err"}, "mark": {"type": "point", "filled": true, "color": "#0000aa", "size": 5, "opacity": 1},
   "encoding": {
    "x": {"field": "x", "type": "quantitative", "scale": {"domain": [0, 20], "nice": false}, "axis": null},
    "y": {"field": "m", "type": "quantitative", "scale": {"domain": [0, 0.8], "nice": false}, "axis": null}}},
  {"data": {"name": "c_lines"}, "mark": {"type": "line", "color": "#ff0000", "strokeWidth": 1},
   "encoding": {
    "x": {"field": "x", "type": "quantitative", "scale": {"domain": [0, 20], "nice": false}, "axis": null},
    "y": {"field": "y", "type": "quantitative", "scale": {"domain": [0, 0.8], "nice": false}, "axis": null},
    "detail": {"field": "r", "type": "nominal"}}},
  {"data": {"name": "c_dots"}, "mark": {"type": "point", "filled": true, "color": "#000000", "size": 28, "opacity": 1},
   "encoding": {
    "x": {"field": "x", "type": "quantitative", "scale": {"domain": [0, 20], "nice": false}, "axis": {"orient": "top", "labels": false, "title": null, "values": [0, 5, 10, 15, 20]}},
    "y": {"field": "y", "type": "quantitative", "scale": {"domain": [0, 0.8], "nice": false}, "axis": {"orient": "right", "labels": false, "title": null, "values": [0, 0.2, 0.4, 0.6, 0.8]}}}}
 ]
},
{
 "width": 282, "height": 196,
 "title": {"text": "(d)", "orient": "bottom", "offset": 10},
 "resolve": {"axis": {"x": "independent", "y": "independent"}},
 "layer": [
  {"data": {"name": "d_black"}, "mark": {"type": "circle", "size": 6, "opacity": 1},
   "encoding": {
    "x": {"field": "x", "type": "quantitative", "scale": {"domain": [0, 1], "nice": false}, "axis": {"values": [0, 0.2, 0.4, 0.6, 0.8, 1], "format": "~g", "title": "λ₂"}},
    "y": {"field": "y", "type": "quantitative", "scale": {"domain": [0, 5], "nice": false}, "axis": {"values": [0, 1, 2, 3, 4, 5], "format": "~g", "title": "μ₂"}},
    "color": {"field": "g", "type": "nominal", "scale": {"domain": ["k", "r", "g", "b", "c"], "range": ["#000000", "#ff0000", "#00ff00", "#0000ff", "#00ffff"]}, "legend": null}}},
  {"data": {"name": "d_pts"}, "mark": {"type": "circle", "size": 11, "opacity": 1},
   "encoding": {
    "x": {"field": "x", "type": "quantitative", "scale": {"domain": [0, 1], "nice": false}, "axis": null},
    "y": {"field": "y", "type": "quantitative", "scale": {"domain": [0, 5], "nice": false}, "axis": null},
    "color": {"field": "g", "type": "nominal", "scale": {"domain": ["k", "r", "g", "b", "c"], "range": ["#000000", "#ff0000", "#00ff00", "#0000ff", "#00ffff"]}, "legend": null}}},
  {"data": {"name": "d_big"}, "mark": {"type": "circle", "size": 20, "opacity": 1},
   "encoding": {
    "x": {"field": "x", "type": "quantitative", "scale": {"domain": [0, 1], "nice": false}, "axis": null},
    "y": {"field": "y", "type": "quantitative", "scale": {"domain": [0, 5], "nice": false}, "axis": null},
    "color": {"field": "g", "type": "nominal", "scale": {"domain": ["k", "r", "g", "b", "c"], "range": ["#000000", "#ff0000", "#00ff00", "#0000ff", "#00ffff"]}, "legend": null}}},
  {"data": {"name": "d_labels"}, "mark": {"type": "text", "font": "Liberation Serif", "fontSize": 15, "align": "center", "baseline": "middle"},
   "encoding": {
    "x": {"field": "x", "type": "quantitative", "scale": {"domain": [0, 1], "nice": false}, "axis": null},
    "y": {"field": "y", "type": "quantitative", "scale": {"domain": [0, 5], "nice": false}, "axis": null},
    "text": {"field": "t"},
    "color": {"field": "g", "type": "nominal", "scale": {"domain": ["k", "r", "g", "b", "c"], "range": ["#000000", "#ff0000", "#00ff00", "#0000ff", "#00ffff"]}, "legend": null}}},
  {"data": {"name": "d_labels_bold"}, "mark": {"type": "text", "font": "Liberation Serif", "fontSize": 15, "fontWeight": "bold", "align": "center", "baseline": "middle"},
   "encoding": {
    "x": {"field": "x", "type": "quantitative", "scale": {"domain": [0, 1], "nice": false}, "axis": {"orient": "top", "labels": false, "title": null, "values": [0, 0.2, 0.4, 0.6, 0.8, 1]}},
    "y": {"field": "y", "type": "quantitative", "scale": {"domain": [0, 5], "nice": false}, "axis": {"orient": "right", "labels": false, "title": null, "values": [0, 1, 2, 3, 4, 5]}},
    "text": {"field": "t"},
    "color": {"field": "g", "type": "nominal", "scale": {"domain": ["k", "r", "g", "b", "c"], "range": ["#000000", "#ff0000", "#00ff00", "#0000ff", "#00ffff"]}, "legend": null}}}
 ]
}
],
"config": {
 "view": {"stroke": "#404040", "strokeWidth": 1},
 "axis": {"grid": false, "domain": false, "ticks": true, "tickSize": -4, "tickColor": "#404040", "tickWidth": 1, "labelFont": "DejaVu Sans", "labelFontSize": 12, "labelColor": "#262626", "labelPadding": 5, "labelFlush": false, "labelOverlap": false, "titleFont": "Liberation Serif", "titleFontStyle": "italic", "titleFontWeight": "normal", "titleFontSize": 15, "titleColor": "#262626", "titlePadding": 3},
 "axisX": {"titlePadding": 6},
 "title": {"font": "Liberation Serif", "fontSize": 16, "fontWeight": "bold", "color": "#000000"}
}
}
